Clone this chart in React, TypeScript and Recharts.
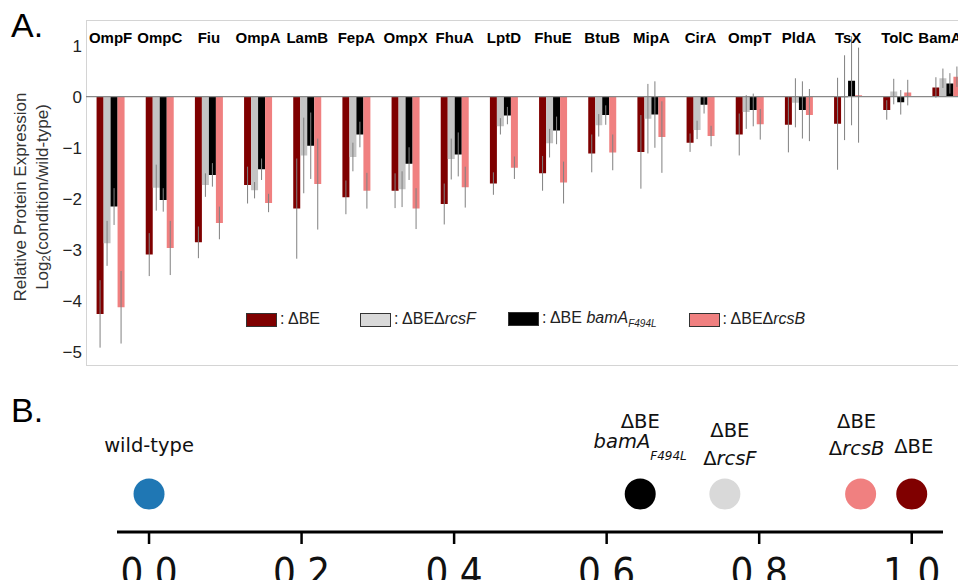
import React from "react"
import {
  BarChart,
  Bar,
  XAxis,
  YAxis,
  ErrorBar,
  ReferenceLine,
  ScatterChart,
  Scatter,
} from "recharts"

// panel A: log2 fold change per outer membrane protein
const proteins = [
  "OmpF", "OmpC", "Fiu", "OmpA", "LamB", "FepA", "OmpX", "FhuA", "LptD",
  "FhuE", "BtuB", "MipA", "CirA", "OmpT", "PldA", "TsX", "TolC", "BamA",
]
const dBE = [-4.25, -3.09, -2.85, -1.73, -2.19, -1.97, -1.84, -2.1, -1.7, -1.5, -1.11, -1.08, -0.9, -0.74, -0.55, -0.53, -0.26, 0.18]
const dBEErr = [0.66, 0.42, 0.31, 0.36, 0.98, 0.33, 0.34, 0.4, 0.22, 0.34, 0.37, 0.72, 0.18, 0.41, 0.54, 0.9, 0.19, 0.2]
const dRcsF = [-2.87, -1.78, -1.73, -1.83, -1.15, -1.18, -1.81, -1.22, -0.58, -0.91, -0.56, -0.43, -0.65, -0.3, -0.12, -0.02, 0.1, 0.36]
const dRcsFErr = [0.44, 0.45, 0.23, 0.16, 0.74, 0.28, 0.35, 0.4, 0.16, 0.28, 0.22, 0.68, 0.18, 0.33, 0.48, 0.83, 0.25, 0.19]
const bamA = [-2.15, -2.02, -1.53, -1.42, -0.96, -0.74, -1.31, -1.13, -0.37, -0.66, -0.36, -0.35, -0.16, -0.26, -0.26, 0.31, -0.11, 0.26]
const bamAErr = [0.36, 0.23, 0.23, 0.21, 0.65, 0.25, 0.32, 0.43, 0.17, 0.27, 0.19, 0.65, 0.17, 0.32, 0.56, 0.87, 0.24, 0.2]
const dRcsB = [-4.12, -2.96, -2.47, -2.08, -1.71, -1.84, -2.19, -1.77, -1.39, -1.68, -1.09, -0.79, -0.77, -0.54, -0.36, 0.03, 0.08, 0.39]
const dRcsBErr = [0.71, 0.53, 0.32, 0.18, 0.89, 0.35, 0.4, 0.4, 0.22, 0.41, 0.35, 0.7, 0.2, 0.3, 0.51, 0.93, 0.25, 0.2]
const yTicks = [-5, -4, -3, -2, -1, 0, 1]

// panel B: strains ordered on a 0..1 scale
const strains = ["wild-type", "bamA", "rcsF", "rcsB", "dBE"]
const strainScore = [0, 0.644, 0.755, 0.933, 1.0]
const bTicks = [0, 0.2, 0.4, 0.6, 0.8, 1.0]

const barData = proteins.map((name, i) => ({
  name,
  a: dBE[i], ea: dBEErr[i],
  b: dRcsF[i], eb: dRcsFErr[i],
  c: bamA[i], ec: bamAErr[i],
  d: dRcsB[i], ed: dRcsBErr[i],
}))

const strainData = strains.map((key, i) => ({ key, x: strainScore[i], y: 0 }))

const RED = "#7f0000"
const GREY = "#c4c4c4"
const PINK = "#f08080"
const ERR = "#808080"
const FRAME = "#d4d4d4"
const ARIAL = "'Liberation Sans', Arial, sans-serif"
const DEJAVU = "'DejaVu Sans', sans-serif"

const CatTick = (props: any) => {
  const { x, payload } = props
  // keep the last label inside the picture
  const cx = Math.min(x, 940)
  return (
    <text x={cx} y={43} textAnchor="middle" fontFamily={ARIAL} fontWeight="bold" fontSize={15} fill="#000">
      {payload.value}
    </text>
  )
}

const YTitle = () => (
  <g fontFamily={ARIAL} fontSize={17} fill="#333">
    <text x={20} y={197} transform="rotate(-90, 20, 197)" textAnchor="middle" dominantBaseline="central">
      Relative Protein Expression
    </text>
    <text x={42} y={197} transform="rotate(-90, 42, 197)" textAnchor="middle" dominantBaseline="central">
      Log<tspan fontSize={11} dy={4}>2</tspan>
      <tspan dy={-4}>(condition/wild-type)</tspan>
    </text>
  </g>
)

const swatch = (color: string) => (
  <span
    style={{
      display: "inline-block",
      width: 31,
      height: 14,
      background: color,
      border: "1px solid #333",
      boxSizing: "border-box",
      marginRight: 3,
      verticalAlign: "middle",
    }}
  />
)

const LegendBox = () => (
  <div style={{ display: "flex", alignItems: "center", fontFamily: ARIAL, fontSize: 16, color: "#222", whiteSpace: "nowrap" }}>
    <span style={{ marginRight: 40 }}>{swatch(RED)}: ΔBE</span>
    <span style={{ marginRight: 32 }}>{swatch("#d9d9d9")}: ΔBEΔ<i>rcsF</i></span>
    <span style={{ marginRight: 32 }}>
      {swatch("#000")}: ΔBE <i>bamA</i>
      <sub style={{ fontSize: 10, fontStyle: "italic" }}>F494L</sub>
    </span>
    <span>{swatch(PINK)}: ΔBEΔ<i>rcsB</i></span>
  </div>
)

const strainStyle: Record<string, { color: string; dx: number }> = {
  "wild-type": { color: "#1f77b4", dx: 0 },
  bamA: { color: "#000000", dx: 0 },
  rcsF: { color: "#d9d9d9", dx: 5 },
  rcsB: { color: PINK, dx: -4 },
  dBE: { color: "#800000", dx: 2 },
}

const strainLabel = (key: string, x: number, cy: number) => {
  const it = { fontStyle: "italic" as const }
  switch (key) {
    case "wild-type":
      return <text x={x} y={cy - 42} textAnchor="middle">wild-type</text>
    case "bamA":
      return (
        <>
          <text x={x} y={cy - 66} textAnchor="middle">ΔBE</text>
          <text x={x} y={cy - 46} textAnchor="middle">
            <tspan {...it}>bamA</tspan>
            <tspan {...it} fontSize={12} dy={12}>F494L</tspan>
          </text>
        </>
      )
    case "rcsF":
      return (
        <>
          <text x={x} y={cy - 57} textAnchor="middle">ΔBE</text>
          <text x={x} y={cy - 29} textAnchor="middle">Δ<tspan {...it}>rcsF</tspan></text>
        </>
      )
    case "rcsB":
      return (
        <>
          <text x={x} y={cy - 66} textAnchor="middle">ΔBE</text>
          <text x={x} y={cy - 39} textAnchor="middle">Δ<tspan {...it}>rcsB</tspan></text>
        </>
      )
    default:
      return <text x={x} y={cy - 41} textAnchor="middle">ΔBE</text>
  }
}

const StrainDot = (props: any) => {
  const { cx, cy, payload } = props
  const s = strainStyle[payload.key]
  return (
    <g>
      <circle cx={cx} cy={cy} r={15.5} fill={s.color} />
      <g fontFamily={DEJAVU} fontSize={19.5} fill="#111">
        {strainLabel(payload.key, cx + s.dx, cy)}
      </g>
    </g>
  )
}

const BigTick = (props: any) => {
  const { x, payload } = props
  // baseline sits right at the picture edge, as in the reference
  return (
    <text
      transform={`translate(${x},${206}) scale(1,1.1)`}
      y={0}
      textAnchor="middle"
      fontFamily={DEJAVU}
      fontSize={36}
      fill="#111"
    >
      {Number(payload.value).toFixed(1)}
    </text>
  )
}

export default function App() {
  return (
    <div style={{ position: "relative", width: 966, height: 588, margin: -8, overflow: "hidden", background: "#fff" }}>
      <div style={{ position: "absolute", left: 11, top: 8, fontFamily: ARIAL, fontSize: 34, lineHeight: "34px" }}>A.</div>
      <div style={{ position: "absolute", left: 11, top: 393, fontFamily: ARIAL, fontSize: 34, lineHeight: "34px" }}>B.</div>

      {/* plot frame of panel A */}
      <div
        style={{
          position: "absolute",
          left: 86,
          top: 20,
          width: 900,
          height: 344,
          borderLeft: `1px solid ${FRAME}`,
          borderTop: `1px solid ${FRAME}`,
          borderBottom: `1px solid ${FRAME}`,
        }}
      />

      <div style={{ position: "absolute", left: 0, top: 0 }}>
        <BarChart
          width={980}
          height={380}
          data={barData}
          margin={{ top: 0, right: 9, bottom: 16, left: 0 }}
          barCategoryGap="21.5%"
          barGap={0}
        >
          <XAxis
            dataKey="name"
            orientation="top"
            height={20}
            tickLine={false}
            axisLine={false}
            tick={<CatTick />}
            interval={0}
          />
          <YAxis
            width={86}
            domain={[-5.23, 1.5]}
            ticks={yTicks}
            allowDataOverflow
            tickSize={0}
            tickMargin={4}
            tickLine={false}
            axisLine={false}
            tick={{ fontFamily: ARIAL, fontSize: 17, fill: "#222" }}
            tickFormatter={(v: number) => String(v).replace("-", "\u2212")}
          />
          <ReferenceLine y={0} stroke="#888" strokeWidth={1.2} />
          <Bar dataKey="a" fill={RED} isAnimationActive={false}>
            <ErrorBar dataKey="ea" width={0} stroke={ERR} strokeWidth={1} />
          </Bar>
          <Bar dataKey="b" fill={GREY} isAnimationActive={false}>
            <ErrorBar dataKey="eb" width={0} stroke={ERR} strokeWidth={1} />
          </Bar>
          <Bar dataKey="c" fill="#000" isAnimationActive={false}>
            <ErrorBar dataKey="ec" width={0} stroke={ERR} strokeWidth={1} />
          </Bar>
          <Bar dataKey="d" fill={PINK} isAnimationActive={false}>
            <ErrorBar dataKey="ed" width={0} stroke={ERR} strokeWidth={1} />
          </Bar>
          <YTitle />
        </BarChart>
      </div>

      <div style={{ position: "absolute", left: 246, top: 309 }}>
        <LegendBox />
      </div>

      <div style={{ position: "absolute", left: 0, top: 380 }}>
        <ScatterChart width={966} height={208} margin={{ top: 76, right: 23, bottom: 0, left: 117 }}>
          <XAxis
            type="number"
            dataKey="x"
            domain={[-0.042, 1.041]}
            ticks={bTicks}
            height={56}
            tickSize={12}
            tickMargin={2}
            axisLine={{ stroke: "#000", strokeWidth: 3 }}
            tickLine={{ stroke: "#000", strokeWidth: 2.5 }}
            tick={<BigTick />}
          />
          <YAxis type="number" dataKey="y" domain={[-1, 1]} hide />
          <Scatter data={strainData} shape={<StrainDot />} isAnimationActive={false} />
        </ScatterChart>
      </div>
    </div>
  )
}
